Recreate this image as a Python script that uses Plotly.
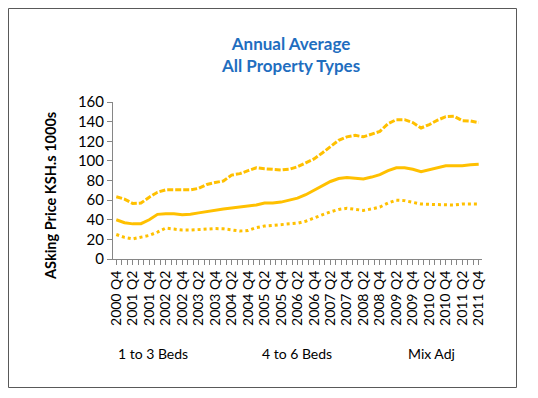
import plotly.graph_objects as go

quarters = ["2000 Q4"] + [f"{y} Q{q}" for y in range(2001, 2012) for q in (1, 2, 3, 4)]

beds_4_6 = [63.5, 61, 56.5, 57, 63, 68, 70.5, 70.5, 71, 70.5, 72, 76, 78, 79.5, 85.5, 87,
            90, 93, 92, 91, 90.7, 91.5, 94, 98, 102, 108, 115, 121, 124.5, 126, 124.5,
            127.5, 130, 138, 142, 142, 139, 133.5, 137, 141.5, 145, 145.5, 141, 140.6, 139]
mix_adj = [40, 37, 35.8, 36, 40, 45.5, 46, 46, 45, 45.5, 47, 48.5, 50, 51, 52, 53, 53.5,
           55, 57, 57, 58, 60, 62, 65.5, 70, 74.5, 79, 82, 83, 82.3, 81.5, 83.5, 86, 90,
           93, 93, 91.5, 89, 91, 93.5, 95, 95, 95, 96, 96.5]
beds_1_3 = [25, 22, 20.5, 22, 24, 27.5, 31.5, 30.5, 29.5, 29.5, 30, 31, 31, 30.8, 30,
            28.5, 29, 32, 33.6, 34.5, 35, 35.7, 36.5, 38.5, 42, 45, 48, 50.5, 51.7, 50.6,
            49.5, 51, 53, 57, 60, 59.5, 58, 56, 55.7, 55.7, 55.7, 55, 56, 56, 56]

series_names = ["1 to 3 Beds", "4 to 6 Beds", "Mix Adj"]
title_lines = ["Annual Average", "All Property Types"]
y_title = "ASking Price KSH.s 1000s"
y_ticks = [0, 20, 40, 60, 80, 100, 120, 140, 160]

x = list(range(len(quarters)))
color = "#FFC000"
font = "Lato, 'Open Sans', sans-serif"

fig = go.Figure()
fig.add_trace(go.Scatter(x=x, y=beds_4_6, name=series_names[1], mode="lines",
                         line=dict(color=color, width=3, dash="6px,2px")))
fig.add_trace(go.Scatter(x=x, y=mix_adj, name=series_names[2], mode="lines",
                         line=dict(color=color, width=3)))
fig.add_trace(go.Scatter(x=x, y=beds_1_3, name=series_names[0], mode="lines",
                         line=dict(color=color, width=3, dash="3px,3px")))

W, H = 538, 398
OFF = 8  # page body margin offset
L, R, T, B = 113 - OFF, 482 - OFF, 102 - OFF, 259 - OFF
pw, ph = R - L, B - T

def px(v):
    return (v - OFF - L) / pw

def py(v):
    return (B - (v - OFF)) / ph

annotations = [
    dict(text="<br>".join(title_lines), x=px(290), y=py(54), xref="paper", yref="paper",
         showarrow=False, xanchor="center", yanchor="middle",
         font=dict(family=font, size=17, color="#1F6EBF", weight="bold")),
    dict(text=y_title, x=px(50), y=py(196), xref="paper", yref="paper", textangle=-90,
         showarrow=False, xanchor="center", yanchor="middle",
         font=dict(family=font, size=14.5, color="#000000", weight="bold")),
]
for name, cx in zip(series_names, [153, 297, 431]):
    annotations.append(dict(text=name, x=px(cx), y=py(353), xref="paper", yref="paper",
                            showarrow=False, xanchor="center", yanchor="middle",
                            font=dict(family=font, size=14, color="#000000")))

fig.update_layout(
    width=W, height=H,
    margin=dict(l=L, r=W - R, t=T, b=H - B, pad=0),
    paper_bgcolor="white", plot_bgcolor="white",
    showlegend=False,
    font=dict(family=font, size=14, color="#000000"),
    annotations=annotations,
    shapes=[dict(type="rect", xref="paper", yref="paper",
                 x0=px(8.5), x1=px(516.5), y0=py(387.5), y1=py(8.5),
                 line=dict(color="#595959", width=1))],
)
fig.update_xaxes(
    range=[-0.4, len(quarters) - 1 + 0.4],
    tickmode="array", tickvals=x[::2], ticktext=quarters[::2], tickangle=-90,
    ticks="outside", ticklen=5, tickcolor="#868686",
    minor=dict(ticks="outside", ticklen=5, tickcolor="#868686", dtick=2 / 3, tick0=0),
    showline=True, linecolor="#868686", linewidth=1, showgrid=False, zeroline=False,
    tickfont=dict(family=font, size=14),
)
fig.update_yaxes(
    range=[0, 160], tickmode="array", tickvals=y_ticks,
    ticks="outside", ticklen=5, tickcolor="#868686",
    showline=True, linecolor="#868686", linewidth=1, showgrid=False, zeroline=False,
    tickfont=dict(family=font, size=15),
)

fig.write_html("out.html")
